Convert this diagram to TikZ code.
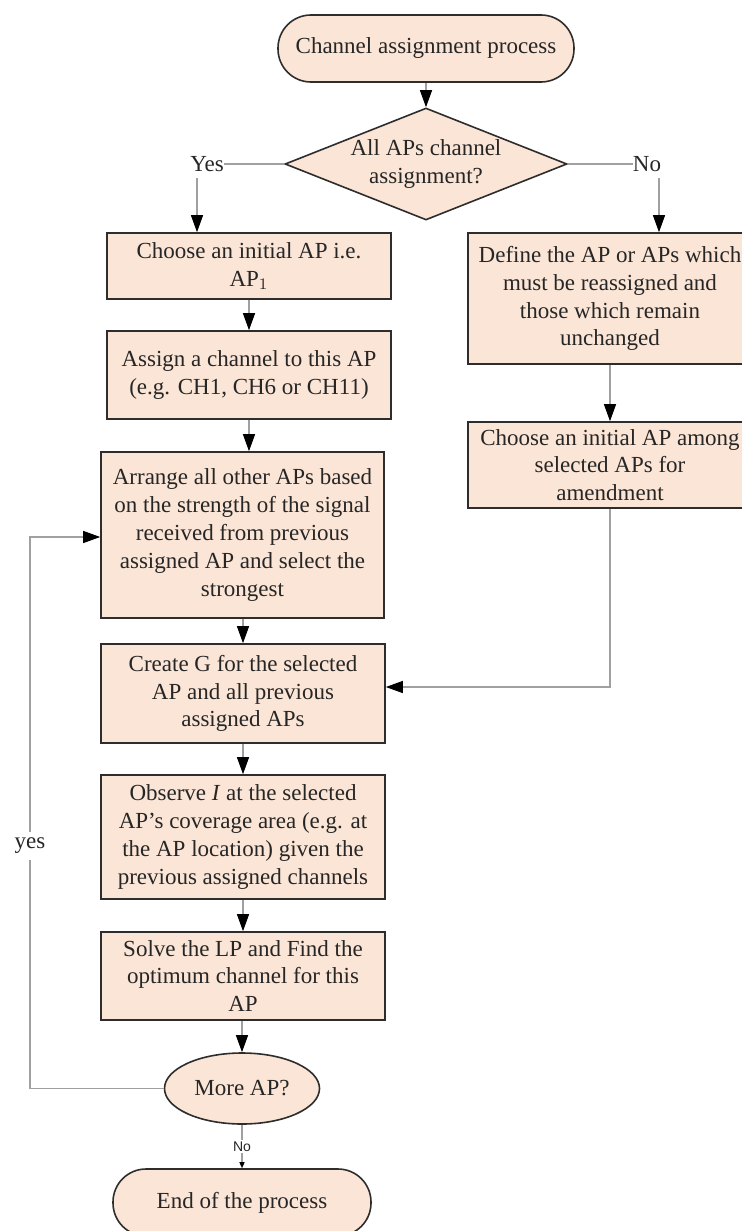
\documentclass[tikz,border=0pt]{standalone}
\usepackage{fontspec}
\setmainfont{Liberation Serif}
\newfontfamily\labelfont{Liberation Sans}
\usetikzlibrary{shapes.geometric,arrows.meta}
\definecolor{boxfill}{RGB}{251,229,214}
\definecolor{edgegray}{RGB}{45,45,45}
\definecolor{linegray}{RGB}{160,160,160}

\begin{document}
\begin{tikzpicture}[x=0.5pt,y=-0.5pt]
\tikzstyle{every node}+=[inner sep=0pt,font=\fontsize{11.5}{13.9}\selectfont,text=black!85]
\tikzstyle{box}=[draw=edgegray,line width=0.8pt,fill=boxfill,align=center,minimum width=142pt]
\tikzstyle{term}=[box,rounded corners=16.5pt,minimum height=33.5pt]
\tikzstyle{wire}=[draw=linegray,line width=0.6pt]
\tikzstyle{flow}=[wire,-{Triangle[length=8.5pt,width=6pt,color=black]}]
\useasboundingbox (0,0) rectangle (742,1231);
% start and first decision
\node[term,minimum width=148pt] (start) at (426,48.5) {Channel assignment process};
\node[box,diamond,aspect=2.52,minimum width=141pt,minimum height=56pt] (ask) at (426,164) {All APs channel\\assignment?};
\node (yes) at (207,164) {Yes};
\node (no) at (647,164) {No};
% left column
\node[box,minimum height=33pt] (choose) at (249,266) {Choose an initial AP i.e.\\AP$_1$};
\node[box,minimum height=44pt] (assign) at (249,375) {Assign a channel to this AP\\(e.g. CH1, CH6 or CH11)};
\node[box,minimum width=141.5pt,minimum height=83pt] (arrange) at (242.5,535) {Arrange all other APs based\\on the strength of the signal\\received from previous\\assigned AP and select the\\strongest};
\node[box,minimum height=49.5pt] (create) at (243,693.5) {Create G for the selected\\AP and all previous\\assigned APs};
\node[box,minimum height=62pt] (observe) at (243,837) {Observe \textit{I} at the selected\\AP’s coverage area (e.g. at\\the AP location) given the\\previous assigned channels};
\node[box,minimum height=44pt] (solve) at (243,976) {Solve the LP and Find the\\optimum channel for this\\AP};
\node[box,ellipse,minimum width=77.5pt,minimum height=35.5pt] (more) at (242,1088.5) {More AP?};
\node[term,minimum width=129pt] (finish) at (242,1202.5) {End of the process};
% right column
\node[box,minimum height=65.5pt] (define) at (610,298.5) {Define the AP or APs which\\must be reassigned and\\those which remain\\unchanged};
\node[box,minimum height=43pt] (among) at (610,465) {Choose an initial AP among\\selected APs for\\amendment};
\coordinate (back) at (30,537);
% connectors
\draw[flow] (start.south) -- (ask.north);
\draw[wire] (ask.west) -- (ask.west -| yes.east);
\draw[wire] (ask.east) -- (ask.east -| no.west);
\draw[flow] ([xshift=-5pt,yshift=-3pt]yes.south) -- ([xshift=-5pt]yes.south |- choose.north);
\draw[flow] ([xshift=6pt,yshift=-3pt]no.south) -- ([xshift=6pt]no.south |- define.north);
\draw[flow] (choose.south) -- (assign.north);
\draw[flow] (assign.south) -- (assign.south |- arrange.north);
\draw[flow] (create.north |- arrange.south) -- (create.north);
\draw[flow] (create.south) -- (observe.north);
\draw[flow] (observe.south) -- (solve.north);
\draw[flow] (more.north |- solve.south) -- (more.north);
\draw[wire,-{Triangle[length=3pt,width=2.5pt,color=black]}] (more.south) -- node[fill=white,inner sep=1pt,font=\labelfont\fontsize{7}{8}\selectfont]{No} (finish.north);
\draw[flow] (more.west) -- (more.west -| back) -- node[pos=0.44,fill=white,inner ysep=3pt]{yes} (back) -- (arrange.west |- back);
\draw[flow] (define.south) -- (among.north);
\draw[flow] (among.south) |- ([yshift=3.25pt]create.east);
\end{tikzpicture}
\end{document}
